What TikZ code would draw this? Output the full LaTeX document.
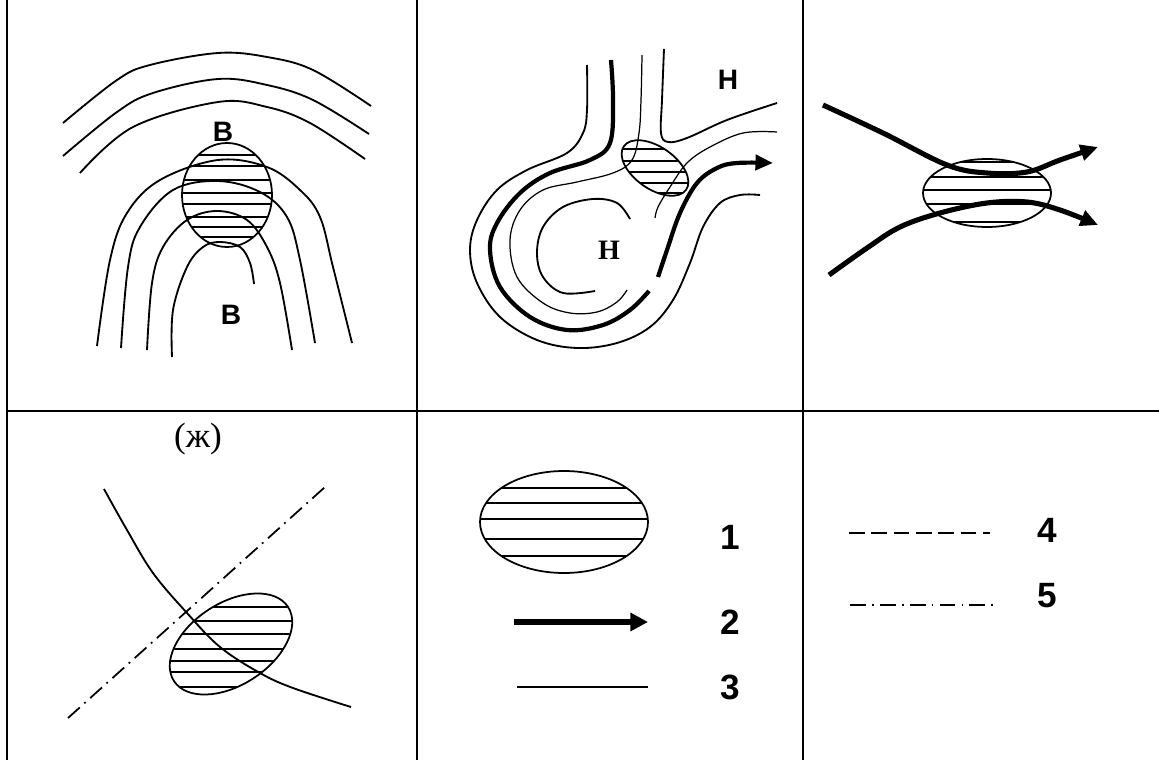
\documentclass[tikz,border=0pt]{standalone}
\usepackage{fontspec}
\setmainfont{Liberation Serif}
\setsansfont{Liberation Sans}
\usepackage{tikz}
\usetikzlibrary{arrows.meta, positioning}

\begin{document}
\begin{tikzpicture}[
    x=0.02cm, y=-0.02cm,
    frame/.style={line width=1pt},
    isoline/.style={line width=1.05pt},
    fineline/.style={line width=0.7pt},
    jetline/.style={line width=2.4pt},
    jetarrow/.style={line width=2.9pt, -{Triangle[length=10pt, width=9pt]}},
    hatchline/.style={line width=1pt},
    zone/.style={line width=1pt},
    dashline/.style={line width=1pt, dash pattern=on 8.9pt off 3.8pt},
    axisline/.style={line width=1pt, dash pattern=on 9pt off 3.5pt on 1pt off 3.5pt},
    centre/.style={font=\sffamily\bfseries\fontsize{16}{16}\selectfont},
    centreserif/.style={font=\rmfamily\bfseries\fontsize{16}{16}\selectfont},
    legendnum/.style={font=\sffamily\bfseries\fontsize{20}{20}\selectfont}
]
\useasboundingbox (0,0) rectangle (1159,760);

\draw[frame] (7,0) -- (7,760);
\draw[frame] (417,0) -- (417,760);
\draw[frame] (803,0) -- (803,760);
\draw[frame] (7,411) -- (1159,411);

% panel a
\draw[isoline] plot[smooth, tension=0.6] coordinates {(63,123) (117,80) (150,65) (218,53) (267,57) (313,70) (371,106)};
\draw[isoline] plot[smooth, tension=0.6] coordinates {(63,156) (117,112) (153,93) (218,79) (267,85) (313,100) (369,134)};
\draw[isoline] plot[smooth, tension=0.6] coordinates {(80,173) (133,127) (218,102) (267,107) (310,123) (365,159)};
\draw[isoline] plot[smooth, tension=0.6] coordinates {(97,346) (110,260) (127,213) (160,180) (218,160) (267,167) (300,190) (320,217) (333,267) (352,343)};
\draw[isoline] plot[smooth, tension=0.6] coordinates {(121,348) (128,267) (140,227) (173,190) (218,181) (260,192) (287,217) (300,260) (315,343)};
\draw[isoline] plot[smooth, tension=0.6] coordinates {(147,350) (152,283) (163,247) (187,220) (217,211) (247,220) (267,247) (280,283) (292,350)};
\draw[isoline] plot[smooth, tension=0.6] coordinates {(172,357) (173,310) (187,267) (203,247) (220,242) (240,247) (250,263) (254,284)};
\begin{scope}
  \clip (227,195) ellipse (45 and 52);
  \foreach \yy in {155,166,180,193,204,217,227,237}
    \draw[hatchline] (178,\yy) -- (274,\yy);
\end{scope}
\draw[zone] (227,195) ellipse (45 and 52);
\node[centre] (hightop) at (223,132) {В};
\node[centre] (highbottom) at (231,315) {В};

% panel b
\draw[isoline] plot[smooth, tension=0.6] coordinates {(587,65) (587,110) (583,133) (567,153) (527,170) (497,190) (477,220) (470,250) (477,283) (500,317) (537,340) (577,348) (617,343) (650,327) (673,300) (690,263) (703,227) (720,203) (740,195) (760,195)};
\draw[jetline] plot[smooth, tension=0.6] coordinates {(611,60) (613,100) (610,143) (590,160) (550,173) (520,193) (497,223) (490,250) (500,287) (530,317) (567,330) (603,325) (630,310) (649,291)};
\draw[jetline, -{Triangle[length=10pt, width=8.5pt]}] plot[smooth, tension=0.6] coordinates {(658,277) (667,250) (680,213) (697,183) (717,168) (737,163) (773,163)};
\draw[fineline] plot[smooth, tension=0.6] coordinates {(642,55) (641,100) (639,133) (632,160) (613,173) (577,182) (543,190) (520,210) (510,240) (517,277) (543,303) (570,313) (597,312) (617,302) (627,290)};
\draw[isoline] plot[smooth, tension=0.6] coordinates {(664,49) (662,100) (661,133) (668,142) (687,138) (727,120) (777,103)};
\draw[fineline] plot[smooth, tension=0.6] coordinates {(777,132) (743,133) (710,147) (687,163) (670,187) (658,207) (655,218)};
\draw[isoline] plot[smooth, tension=0.6] coordinates {(630,219) (617,203) (593,199) (563,207) (543,227) (537,253) (543,277) (563,293) (595,291)};
\begin{scope}
  \clip[rotate around={-35:(655,168)}] (655,168) ellipse (38 and 21);
  \foreach \yy in {149,161,172,183,193}
    \draw[hatchline] (618,\yy) -- (692,\yy);
\end{scope}
\draw[zone, rotate around={-35:(655,168)}] (655,168) ellipse (38 and 21);
\node[centre] (lowtop) at (728,80) {Н};
\node[centreserif] (lowcentre) at (609,250) {Н};

% panel c
\begin{scope}
  \clip (987,193) ellipse (64 and 34);
  \foreach \yy in {162,177,190,204,222}
    \draw[hatchline] (920,\yy) -- (1052,\yy);
\end{scope}
\draw[zone] (987,193) ellipse (64 and 34);
\draw[jetarrow] plot[smooth, tension=0.6] coordinates {(823,105) (883,133) (947,165) (987,173) (1027,172) (1060,160) (1098,147)};
\draw[jetarrow] plot[smooth, tension=0.6] coordinates {(829,275) (867,248) (900,227) (940,213) (987,203) (1027,202) (1060,210) (1098,225)};

% panel d
\node[font=\rmfamily\fontsize{20}{20}\selectfont] (caseg) at (198,439) {(ж)};
\draw[axisline] (68,718) -- (325,487);
\begin{scope}
  \clip[rotate around={33:(231,644)}] (231,644) ellipse (68 and 41);
  \foreach \yy in {607,621,634,649,661,672,687}
    \draw[hatchline] (160,\yy) -- (300,\yy);
\end{scope}
\draw[zone, rotate around={33:(231,644)}] (231,644) ellipse (68 and 41);
\draw[isoline] plot[smooth, tension=0.6] coordinates {(104,489) (127,530) (153,573) (187,613) (220,647) (260,673) (293,688) (351,707)};

% legend
\begin{scope}
  \clip (564,522) ellipse (84 and 51);
  \foreach \yy in {488,503,519,539,556}
    \draw[hatchline] (478,\yy) -- (650,\yy);
\end{scope}
\draw[zone] (564,522) ellipse (84 and 51);
\node[legendnum] (key1) at (730,537) {1};

\coordinate (arrowstart) at (514,622);
\coordinate (arrowend) at (648,622);
\draw[line width=3pt, -{Triangle[length=10pt, width=10pt]}] (arrowstart) -- (arrowend);
\node[legendnum] (key2) at (730,622) {2};

\coordinate (linestart) at (517,687);
\coordinate (lineend) at (648,687);
\draw[isoline] (linestart) -- (lineend);
\node[legendnum] (key3) at (730,687) {3};

\coordinate (dashstart) at (849,533);
\coordinate (dashend) at (990,533);
\draw[dashline] (dashstart) -- (dashend);
\node[legendnum] (key4) at (1047,530) {4};

\coordinate (axisstart) at (850,605);
\coordinate (axisend) at (993,605);
\draw[axisline] (axisstart) -- (axisend);
\node[legendnum] (key5) at (1047,596) {5};

\end{tikzpicture}
\end{document}
